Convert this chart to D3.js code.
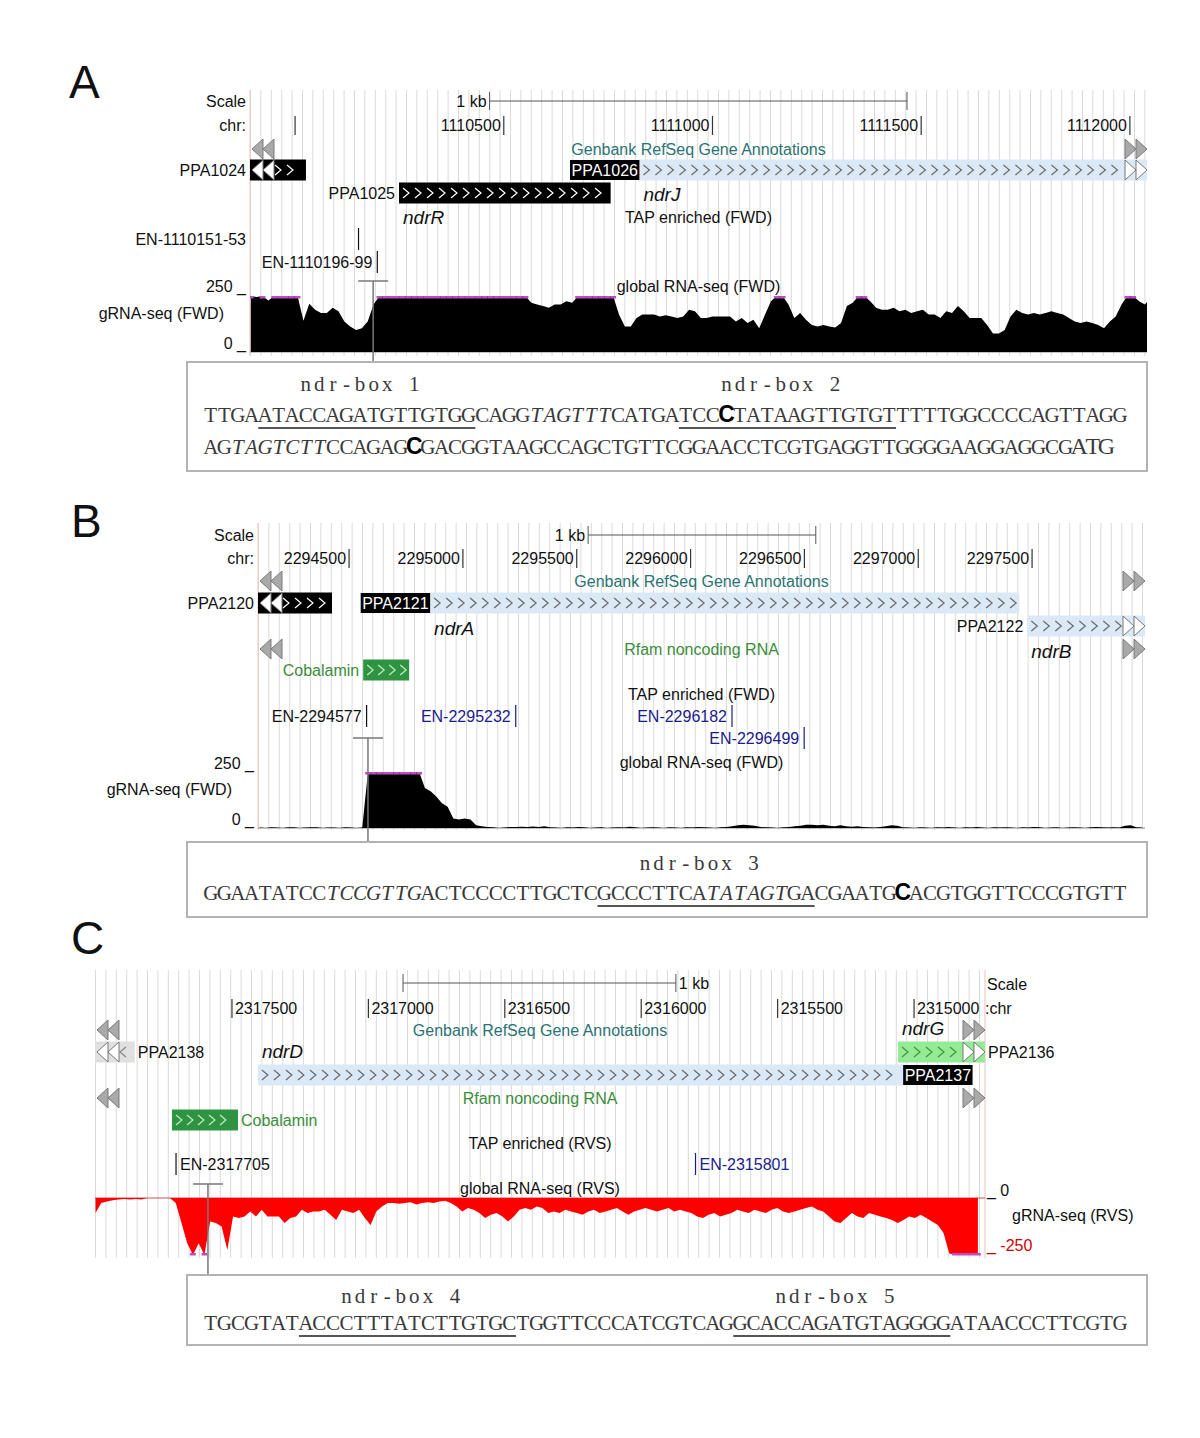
<!DOCTYPE html>
<html>
<head>
<meta charset="utf-8">
<title>ndr-box browser views</title>
<script src="https://cdn.jsdelivr.net/npm/d3@7"></script>
<style>
  body { margin: 0; background: #fff; }
</style>
</head>
<body>
<svg id="fig" width="1200" height="1438"></svg>
<script>
// ---------- data ----------
const viewA = [1109892, 1112041];
const viewB = [2294100, 2297996];
const viewC = [2318002, 2314740];

const ticksA = [1110000, 1110500, 1111000, 1111500, 1112000];
const tickLabelsA = ["", "1110500", "1111000", "1111500", "1112000"];
const ticksB = [2294500, 2295000, 2295500, 2296000, 2296500, 2297000, 2297500];
const tickLabelsB = ["2294500", "2295000", "2295500", "2296000", "2296500", "2297000", "2297500"];
const ticksC = [2317500, 2317000, 2316500, 2316000, 2315500, 2315000];
const tickLabelsC = ["2317500", "2317000", "2316500", "2316000", "2315500", "2315000"];

const scaleBarA = [1110466, 1111466];
const scaleBarB = [2295550, 2296550];
const scaleBarC = [2316873, 2315873];

const genesA = [
  {name: "PPA1024", start: 1109850, end: 1110026, strand: "+", row: 0, cls: "black"},
  {name: "PPA1025", alias: "ndrR", start: 1110249, end: 1110756, strand: "+", row: 1, cls: "black"},
  {name: "PPA1026", alias: "ndrJ", start: 1110825, end: 1112100, strand: "+", row: 0, cls: "blue"}
];
const genesB = [
  {name: "PPA2120", start: 2294050, end: 2294425, strand: "+", row: 0, cls: "black"},
  {name: "PPA2121", alias: "ndrA", start: 2294856, end: 2297444, strand: "+", row: 0, cls: "blue"},
  {name: "PPA2122", alias: "ndrB", start: 2297479, end: 2298100, strand: "+", row: 1, cls: "blue"}
];
const rfamB = [{name: "Cobalamin", start: 2294562, end: 2294764, strand: "+", row: 0, cls: "rfam"}];
const genesC = [
  {name: "PPA2138", start: 2317856, end: 2318100, strand: "+", row: 0, cls: "lgray"},
  {name: "PPA2137", alias: "ndrD", start: 2315040, end: 2317405, strand: "-", row: 1, cls: "blue"},
  {name: "PPA2136", alias: "ndrG", start: 2314600, end: 2315059, strand: "-", row: 0, cls: "lgreen"}
];
const rfamC = [{name: "Cobalamin", start: 2317478, end: 2317720, strand: "-", row: 0, cls: "rfam"}];
const boxedLabels = ["PPA1026", "PPA2121", "PPA2137"];

const enA = [
  {name: "EN-1110151-53", pos: 1110152, row: 0, margin: true},
  {name: "EN-1110196-99", pos: 1110197, row: 1}
];
const enB = [
  {name: "EN-2294577", pos: 2294577, row: 0},
  {name: "EN-2295232", pos: 2295232, row: 0, known: true},
  {name: "EN-2296182", pos: 2296182, row: 0, known: true},
  {name: "EN-2296499", pos: 2296499, row: 1, known: true}
];
const enC = [
  {name: "EN-2317705", pos: 2317705, row: 0},
  {name: "EN-2315801", pos: 2315801, row: 0, known: true}
];

const tssA = 1110187, tssB = 2294583, tssC = 2317588;

// global RNA-seq coverage, one value per bin, clipped at 250
const covAStart = 1109894, covAStep = 14;
const covA = [250,245,250,230,250,250,250,250,250,140,215,189,174,174,197,182,136,114,98,106,
  136,212,250,250,250,250,250,250,250,250,250,250,250,250,250,250,250,250,250,250,
  250,250,250,250,250,250,250,250,220,212,205,197,212,212,227,220,250,250,250,250,
  250,250,250,167,114,114,152,167,167,167,159,164,159,152,159,189,182,152,152,159,
  159,159,159,136,152,129,144,106,167,227,250,250,212,152,174,144,121,114,121,114,
  109,129,205,220,250,250,227,197,189,189,197,182,189,174,182,189,167,167,152,182,
  174,205,182,152,152,152,121,83,83,98,159,189,174,167,174,167,174,182,174,167,
  152,136,129,136,129,121,106,136,159,212,250,250,227,212,242];
const covBStart = 2294108, covBStep = 25;
const covB = [2,0,3,2,0,3,3,0,2,3,3,0,2,2,0,3,2,0,2,250,
  250,250,250,250,250,250,250,250,250,179,164,141,111,95,42,38,42,38,12,8,
  4,3,0,2,5,5,6,5,7,5,8,3,2,0,3,2,4,3,0,2,
  3,0,2,3,2,6,3,0,2,3,2,0,3,2,0,3,2,4,3,2,
  0,3,4,8,12,15,12,10,5,3,2,0,3,5,8,10,14,15,12,14,
  10,8,12,8,6,8,4,3,2,5,8,12,10,3,2,0,3,2,0,3,
  2,4,2,0,3,2,4,2,0,3,2,3,2,0,3,2,4,3,0,2,
  3,0,2,3,2,0,3,5,3,2,3,2,10,12,3,2];
const covCStart = 2318000, covCStep = -21;
const covC = [66,22,15,10,7,4,7,4,7,0,0,0,0,0,22,110,199,250,199,250,
  103,110,125,228,81,88,81,59,81,51,81,81,81,110,88,81,51,66,59,59,
  51,74,96,51,59,66,51,88,118,59,37,22,22,25,22,19,29,22,19,22,
  15,12,22,37,59,44,51,66,88,74,66,81,103,81,51,44,51,37,44,66,
  59,66,51,59,66,74,59,51,66,59,51,44,59,74,59,51,44,51,59,51,
  44,59,51,59,66,81,88,74,66,81,74,66,51,59,66,51,59,66,51,44,
  59,66,59,51,44,37,51,59,81,103,110,88,66,81,88,66,74,81,88,96,
  110,96,81,88,74,88,103,118,154,243,250,250,250,250,250];

// promoter sequences: [text, style]  n=plain i=italic b=bold mark L=large
const seqA1 = [["TTGAATACCAGATGTTGTGGCAGG","n"],["TAGTTT","i"],["CATGATCC","n"],["C","b"],["TATAAGTTGTGTTTTTGGCCCCAGTTAGG","n"]];
const seqA2 = [["AG","n"],["TAGTCTT","i"],["CCAGAG","n"],["C","b"],["GACGGTAAGCCAGCTGTTCGGAACCTCGTGAGGTTGGGGAAGGAGGCG","n"],["ATG","L"]];
const seqB = [["GGAATATCC","n"],["TCCGTTG","i"],["ACTCCCCTTGCTCGCCCTTCA","n"],["TATAGT","i"],["GACGAATG","n"],["C","b"],["ACGTGGTTCCCGTGTT","n"]];
const seqC = [["TGCGTATACCCTTTATCTTGTGCTGGTTCCCATCGTCAGGCACCAGATGTAGGGGATAACCCTTCGTG","n"]];
const boxesA = [[4, 19], [35, 50]];
const boxesB = [[29, 44]];
const boxesC = [[7, 22], [39, 54]];
const boxNamesA = ["ndr-box 1", "ndr-box 2"];
const boxNamesB = ["ndr-box 3"];
const boxNamesC = ["ndr-box 4", "ndr-box 5"];

// ---------- drawing ----------
const SANS = "Arial, 'Liberation Sans', sans-serif";
const SEQ = "'Liberation Serif', 'Times New Roman', serif";
const TEAL = "#2a7373", GREEN = "#3b8c3b", BLUE = "#1b1b8c";
const fills = {black: "#000", blue: "#dbe8f6", lgreen: "#95ea95", lgray: "#e0e0e0", rfam: "#2f9442"};
const chevCol = {black: "#fff", blue: "#6a6a6a", lgreen: "#3f963f", lgray: "#888", rfam: "#c4ecc4"};

const svg = d3.select("#fig");
svg.append("rect").attr("width", 1200).attr("height", 1438).attr("fill", "#fff");

function label(g, x, y, str, o = {}) {
  return g.append("text").attr("x", x).attr("y", y).attr("dy", "0.35em")
    .attr("text-anchor", o.anchor || "start")
    .attr("font-family", o.family || SANS)
    .attr("font-size", o.size || 16)
    .attr("font-style", o.italic ? "italic" : null)
    .attr("font-weight", o.bold ? "bold" : null)
    .attr("fill", o.color || "#111")
    .text(str);
}

function grid(g, x, y0, y1) {
  const [a, b] = x.range();
  g.append("g").selectAll("line").data(d3.range(a, b, 10.4)).join("line")
    .attr("x1", d => d + 0.5).attr("x2", d => d + 0.5).attr("y1", y0).attr("y2", y1)
    .attr("stroke", "#dadada").attr("stroke-width", 1);
}

function edgeLine(g, px, y0, y1) {
  g.append("line").attr("x1", px).attr("x2", px).attr("y1", y0).attr("y2", y1)
    .attr("stroke", "#f0caca").attr("stroke-width", 1.2);
}

function tri(g, tip, yc, dir, fill, stroke) {
  g.append("path")
    .attr("d", `M${tip},${yc}L${tip - dir * 11},${yc - 10}L${tip - dir * 11},${yc + 10}Z`)
    .attr("fill", fill).attr("stroke", stroke).attr("stroke-width", 1);
}
function pair(g, edge, yc, dir, fill, stroke) {
  tri(g, edge - dir * 11, yc, dir, fill, stroke);
  tri(g, edge, yc, dir, fill, stroke);
}
const grayPair = (g, edge, yc, dir) => pair(g, edge, yc, dir, "#a9a9a9", "#7a7a7a");

function chevrons(g, c0, c1, yc, dir, color, step) {
  g.append("g").selectAll("path").data(d3.range(c0, c1, step)).join("path")
    .attr("d", d => `M${d - 3 * dir},${yc - 5}L${d + 3 * dir},${yc}L${d - 3 * dir},${yc + 5}`)
    .attr("fill", "none").attr("stroke", color).attr("stroke-width", 1.2);
}

function scaleBar(g, x, bar, y, side) {
  const a = x(bar[0]), b = x(bar[1]);
  g.append("line").attr("x1", a).attr("x2", b).attr("y1", y).attr("y2", y).attr("stroke", "#555");
  [a, b].forEach(v => g.append("line").attr("x1", v).attr("x2", v).attr("y1", y - 9).attr("y2", y + 9).attr("stroke", "#555"));
  if (side === "left") label(g, Math.min(a, b) - 3, y, "1 kb", {anchor: "end"});
  else label(g, Math.max(a, b) + 3, y, "1 kb");
}

function chrRow(g, x, ticks, labels, y, side) {
  g.append("g").selectAll("line").data(ticks).join("line")
    .attr("x1", d => x(d)).attr("x2", d => x(d)).attr("y1", y - 9).attr("y2", y + 10)
    .attr("stroke", "#333").attr("stroke-width", 1.2);
  ticks.forEach((t, i) => {
    if (side === "left") label(g, x(t) - 3, y, labels[i], {anchor: "end"});
    else label(g, x(t) + 3, y, labels[i]);
  });
}

function trackTitle(g, x, y, str, color) {
  const [a, b] = x.range();
  label(g, (a + b) / 2, y, str, {anchor: "middle", color});
}

function drawFeatures(g, x, feats, rowY, side, aliasDy, labelColor) {
  const [r0, r1] = x.range();
  const inc = x.domain()[1] > x.domain()[0] ? 1 : -1;
  feats.forEach(d => {
    const a = Math.min(x(d.start), x(d.end)), b = Math.max(x(d.start), x(d.end));
    const lo = Math.max(a, r0), hi = Math.min(b, r1);
    const clipL = a < r0 - 0.5, clipR = b > r1 + 0.5;
    const yc = rowY[d.row];
    g.append("rect").attr("x", lo).attr("y", yc - 10.5).attr("width", hi - lo).attr("height", 21)
      .attr("fill", fills[d.cls]);
    const dir = (d.strand === "+" ? 1 : -1) * inc;
    const step = d.cls === "rfam" ? 11 : 12;
    chevrons(g, lo + (clipL ? 28 : 7), hi - (clipR ? 26 : 5), yc, dir, chevCol[d.cls], step);
    if (clipL) pair(g, r0 + 2, yc, -1, "#fff", "#777");
    if (clipR) pair(g, r1, yc, 1, "#fff", "#777");

    if (boxedLabels.includes(d.name)) {
      const box = g.append("rect").attr("y", yc - 10).attr("height", 20).attr("fill", "#000");
      const t = label(g, 0, yc, d.name, {color: "#fff"});
      const w = t.node().getComputedTextLength() + 3;
      const bx = side === "left" ? lo - w : hi;
      box.attr("x", bx).attr("width", w);
      t.attr("x", bx + 1.5);
    } else if (side === "left") {
      label(g, lo - 4, yc, d.name, {anchor: "end", color: labelColor});
    } else {
      label(g, hi + 3, yc, d.name, {color: labelColor});
    }
    if (d.alias) label(g, lo + 4, yc + aliasDy, d.alias, {italic: true, size: 19});
  });
}

function drawEN(g, x, items, rowY, side, marginX) {
  items.forEach(d => {
    const px = x(d.pos), yc = rowY[d.row], col = d.known ? BLUE : "#111";
    g.append("line").attr("x1", px).attr("x2", px).attr("y1", yc - 11).attr("y2", yc + 11)
      .attr("stroke", col).attr("stroke-width", 1.2);
    if (d.margin) label(g, marginX, yc, d.name, {anchor: "end", color: col});
    else if (side === "left") label(g, px - 5, yc, d.name, {anchor: "end", color: col});
    else label(g, px + 4, yc, d.name, {color: col});
  });
}

let clipId = 0;
function drawCoverage(g, x, vals, start, step, yBase, yFull, color, baseColor) {
  const [r0, r1] = x.range();
  const y = d3.scaleLinear().domain([0, 250]).range([yBase, yFull]);
  const id = "clip" + (clipId++);
  g.append("clipPath").attr("id", id).append("rect")
    .attr("x", r0).attr("y", Math.min(yBase, yFull) - 4).attr("width", r1 - r0).attr("height", Math.abs(yFull - yBase) + 8);
  const cg = g.append("g").attr("clip-path", `url(#${id})`);
  const pts = vals.map((v, i) => ({p: start + i * step, v}));
  const area = d3.area().x(d => x(d.p)).y0(yBase).y1(d => y(d.v)).curve(d3.curveLinear);
  cg.append("line").attr("x1", r0).attr("x2", r1).attr("y1", yBase).attr("y2", yBase)
    .attr("stroke", baseColor).attr("stroke-width", 1);
  cg.append("path").datum(pts).attr("d", area).attr("fill", color);
  const down = yFull > yBase;
  cg.selectAll("rect.sat").data(pts.filter(d => d.v >= 250)).join("rect").attr("class", "sat")
    .attr("x", d => Math.min(x(d.p - step / 2), x(d.p + step / 2)))
    .attr("width", d => Math.abs(x(d.p + step / 2) - x(d.p - step / 2)))
    .attr("y", down ? yFull - 2 : yFull).attr("height", 2.5).attr("fill", "#c04cc4");
}

function tssMarker(g, px, yTop, yBot) {
  g.append("line").attr("x1", px - 15).attr("x2", px + 15).attr("y1", yTop).attr("y2", yTop)
    .attr("stroke", "#777").attr("stroke-width", 1.5);
  g.append("line").attr("x1", px).attr("x2", px).attr("y1", yTop).attr("y2", yBot)
    .attr("stroke", "#777").attr("stroke-width", 1.5);
}

function seqChars(g, band, chars, baseline) {
  const bw = band.bandwidth();
  g.append("g").selectAll("text").data(chars).join("text")
    .attr("x", d => band(d.i) + bw / 2).attr("y", baseline)
    .attr("text-anchor", "middle")
    .attr("font-family", d => d.st === "b" ? SANS : SEQ)
    .attr("font-weight", d => d.st === "b" ? "bold" : null)
    .attr("font-style", d => d.st === "i" ? "italic" : null)
    .attr("font-size", d => d.st === "b" ? 23 : d.st === "L" ? 24 : 21)
    .attr("fill", d => d.st === "b" ? "#000" : "#3a3a3a")
    .text(d => d.c);
}

function seqBox(g, y, h, lines, boxes, names, labelY) {
  g.append("rect").attr("x", 187).attr("y", y).attr("width", 960).attr("height", h)
    .attr("fill", "#fff").attr("stroke", "#b3b3b3").attr("stroke-width", 2);
  const band = d3.scaleBand().domain(d3.range(68)).range([204, 204 + 68 * 13.57]);
  const bw = band.bandwidth();
  lines.forEach(([segs, unders, yl]) => {
    const chars = segs.flatMap(([s, st]) => s.split("").map(c => ({c, st})));
    chars.forEach((d, i) => d.i = i);
    seqChars(g, band, chars, yl + 7);
    g.append("g").selectAll("line").data(unders).join("line")
      .attr("x1", d => band(d[0])).attr("x2", d => band(d[1]) + bw)
      .attr("y1", yl + 13).attr("y2", yl + 13).attr("stroke", "#555").attr("stroke-width", 2);
  });
  boxes.forEach((b, k) => {
    const chars = names[k].split("").map((c, j) => ({c, st: "n", i: b[0] + 3 + j}));
    seqChars(g, band, chars, labelY + 7);
  });
}

function bigLetter(g, x, y, s) {
  label(g, x, y, s, {size: 46});
}

// ---------- panel A ----------
(function () {
  const g = svg.append("g");
  const x = d3.scaleLinear().domain(viewA).range([250, 1147]);
  bigLetter(g, 69, 82, "A");
  grid(g, x, 90, 356);
  edgeLine(g, 250, 90, 356);
  label(g, 246, 101, "Scale", {anchor: "end"});
  scaleBar(g, x, scaleBarA, 101, "left");
  label(g, 246, 125, "chr:", {anchor: "end"});
  chrRow(g, x, ticksA, tickLabelsA, 125, "left");
  trackTitle(g, x, 149, "Genbank RefSeq Gene Annotations", TEAL);
  grayPair(g, 252, 149, -1);
  grayPair(g, 1147, 149, 1);
  drawFeatures(g, x, genesA, [170, 193], "left", 24, "#111");
  trackTitle(g, x, 217, "TAP enriched (FWD)", "#111");
  drawEN(g, x, enA, [239, 262], "left", 246);
  trackTitle(g, x, 286, "global RNA-seq (FWD)", "#111");
  drawCoverage(g, x, covA, covAStart, covAStep, 352, 296, "#000", "#8a8a8a");
  label(g, 246, 286, "250 _", {anchor: "end"});
  label(g, 224, 313, "gRNA-seq (FWD)", {anchor: "end"});
  label(g, 246, 343, "0 _", {anchor: "end"});
  tssMarker(g, x(tssA), 281, 362);
  seqBox(g, 362, 109, [[seqA1, boxesA, 415], [seqA2, [], 447]], boxesA, boxNamesA, 384);
})();

// ---------- panel B ----------
(function () {
  const g = svg.append("g");
  const x = d3.scaleLinear().domain(viewB).range([258, 1145]);
  bigLetter(g, 71, 521, "B");
  grid(g, x, 523, 830);
  edgeLine(g, 258, 523, 830);
  label(g, 254, 535, "Scale", {anchor: "end"});
  scaleBar(g, x, scaleBarB, 535, "left");
  label(g, 254, 558, "chr:", {anchor: "end"});
  chrRow(g, x, ticksB, tickLabelsB, 558, "left");
  trackTitle(g, x, 581, "Genbank RefSeq Gene Annotations", TEAL);
  grayPair(g, 260, 581, -1);
  grayPair(g, 1145, 581, 1);
  drawFeatures(g, x, genesB, [603, 626], "left", 25, "#111");
  trackTitle(g, x, 649, "Rfam noncoding RNA", GREEN);
  grayPair(g, 260, 649, -1);
  grayPair(g, 1145, 649, 1);
  drawFeatures(g, x, rfamB, [670], "left", 0, GREEN);
  trackTitle(g, x, 694, "TAP enriched (FWD)", "#111");
  drawEN(g, x, enB, [716, 738], "left", 254);
  trackTitle(g, x, 762, "global RNA-seq (FWD)", "#111");
  drawCoverage(g, x, covB, covBStart, covBStep, 828, 772, "#000", "#8a8a8a");
  label(g, 254, 763, "250 _", {anchor: "end"});
  label(g, 232, 789, "gRNA-seq (FWD)", {anchor: "end"});
  label(g, 254, 819, "0 _", {anchor: "end"});
  tssMarker(g, x(tssB), 738, 842);
  seqBox(g, 842, 75, [[seqB, boxesB, 893]], boxesB, boxNamesB, 863);
})();

// ---------- panel C ----------
(function () {
  const g = svg.append("g");
  const x = d3.scaleLinear().domain(viewC).range([95, 985]);
  bigLetter(g, 71, 938, "C");
  grid(g, x, 970, 1258);
  edgeLine(g, 985, 970, 1258);
  label(g, 987, 984, "Scale");
  scaleBar(g, x, scaleBarC, 983, "right");
  label(g, 985, 1008, ":chr");
  chrRow(g, x, ticksC, tickLabelsC, 1008, "right");
  trackTitle(g, x, 1030, "Genbank RefSeq Gene Annotations", TEAL);
  grayPair(g, 97, 1030, -1);
  grayPair(g, 985, 1030, 1);
  drawFeatures(g, x, genesC, [1052, 1075], "right", -24, "#111");
  trackTitle(g, x, 1098, "Rfam noncoding RNA", GREEN);
  grayPair(g, 97, 1098, -1);
  grayPair(g, 985, 1098, 1);
  drawFeatures(g, x, rfamC, [1120], "right", 0, GREEN);
  trackTitle(g, x, 1143, "TAP enriched (RVS)", "#111");
  drawEN(g, x, enC, [1164], "right", 0);
  trackTitle(g, x, 1188, "global RNA-seq (RVS)", "#111");
  drawCoverage(g, x, covC, covCStart, covCStep, 1198, 1255, "#ff0000", "#d05050");
  label(g, 987, 1190, "_ 0");
  label(g, 1012, 1215, "gRNA-seq (RVS)");
  label(g, 987, 1245, "_ -250", {color: "#cc0000"});
  tssMarker(g, x(tssC), 1184, 1275);
  seqBox(g, 1275, 70, [[seqC, boxesC, 1323]], boxesC, boxNamesC, 1296);
})();
</script>
</body>
</html>
